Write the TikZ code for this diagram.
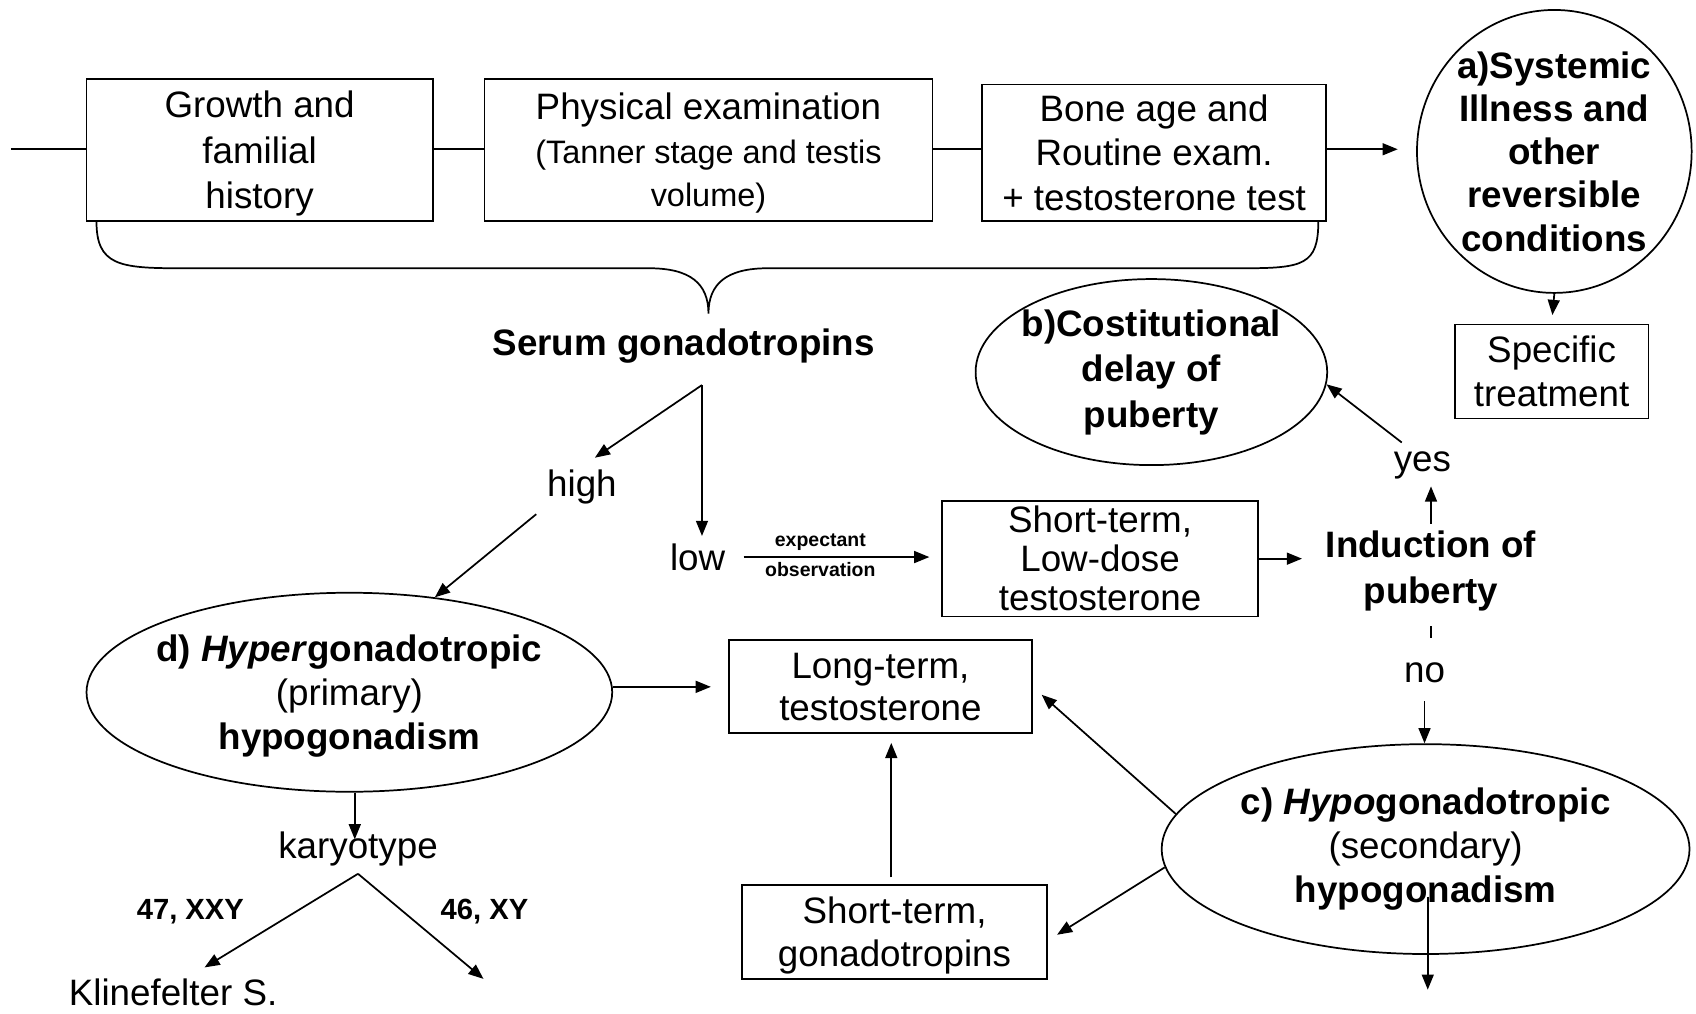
\documentclass[tikz,border=0pt]{standalone}
\usepackage{fontspec}
\setmainfont{Liberation Sans}
\usetikzlibrary{arrows.meta,shapes.geometric,calc}
\newcommand\fsN{\fontsize{17}{21}\selectfont}
\begin{document}
\begin{tikzpicture}[x=0.5pt,y=-0.5pt]
\tikzset{
 box/.style={draw, line width=0.8pt, inner sep=0pt, align=center, font=\fsN},
 oval/.style={draw, ellipse, line width=0.8pt, inner sep=0pt, align=center, font=\bfseries\fsN},
 lbl/.style={inner sep=3.3pt, align=center, font=\fsN},
 tiny/.style={inner sep=0pt, font=\bfseries\fontsize{9}{10}\selectfont},
 arr/.style={-{Triangle[length=7pt,width=5.5pt]}, line width=0.8pt},
 ln/.style={line width=0.8pt},
}
\useasboundingbox (0,0) rectangle (1568,937);
% nodes
\node[box, minimum width=160pt, minimum height=65.5pt, text depth=0pt] (b1) at (240,138.5) {Growth and\\familial\\history};
\node[box, minimum width=207pt, minimum height=65.5pt, text depth=0pt, font=\fontsize{17}{20}\selectfont] (b2) at (655,138.5) {Physical examination\\{\fontsize{15}{18}\selectfont(Tanner stage and testis}\\{\fontsize{15}{18}\selectfont volume)}};
\node[box, minimum width=159pt, minimum height=63pt, font=\fontsize{17}{20.5}\selectfont] (b3) at (1067,141) {Bone age and\\Routine exam.\\+ testosterone test};
\node[oval, minimum width=125pt, minimum height=130pt, font=\bfseries\fontsize{17}{20}\selectfont] (a) at (1437,140) {a)Systemic\\Illness and\\other\\reversible\\conditions};
\node[box, minimum width=89.5pt, minimum height=43.5pt, font=\fontsize{17}{20.5}\selectfont] (spec) at (1434.5,343.5) {Specific\\treatment};
\node[oval, minimum width=162.5pt, minimum height=86pt, inner xsep=-2.5pt, font=\bfseries\fontsize{17}{21}\selectfont] (b) at (1064.5,344) {b)Costitutional\\delay of\\puberty};
\node[lbl, font=\bfseries\fsN] (serum) at (632,320) {Serum gonadotropins};
\coordinate (fork) at (649,356);
\node[lbl] (high) at (538,450) {high};
\node[lbl] (low) at (645,515) {low};
\node[box, minimum width=146pt, minimum height=53.5pt, font=\fontsize{17}{18}\selectfont] (ld) at (1017,516.5) {Short-term,\\Low-dose\\testosterone};
\node[lbl, font=\bfseries\fsN] (ind) at (1323,528) {Induction of\\puberty};
\node[lbl] (yes) at (1315,430) {yes};
\node[lbl] (no) at (1317,622) {no};
\node[oval, minimum width=243pt, minimum height=92pt, inner xsep=-3.5pt, text depth=0pt, font=\fontsize{17}{20.5}\selectfont] (d) at (323,640) {\textbf{d) \textit{Hyper}gonadotropic}\\(primary)\\\textbf{hypogonadism}};
\node[box, minimum width=140pt, minimum height=43pt, font=\fontsize{17}{19.5}\selectfont] (lt) at (814,635) {Long-term,\\testosterone};
\node[oval, minimum width=244pt, minimum height=97pt, font=\fontsize{17}{20.5}\selectfont] (c) at (1318,785) {\textbf{c) \textit{Hypo}gonadotropic}\\(secondary)\\\textbf{hypogonadism}};
\node[box, minimum width=141pt, minimum height=43.5pt, text depth=0pt, font=\fontsize{17}{20}\selectfont] (sg) at (827,861.5) {Short-term,\\gonadotropins};
\node[lbl] (kar) at (331,785) {karyotype};
\node[lbl, font=\bfseries\fontsize{13.5}{16}\selectfont] (xxy) at (176,843) {47, XXY};
\node[lbl, font=\bfseries\fontsize{13.5}{16}\selectfont] (xy) at (448,843) {46, XY};
\node[lbl] (kline) at (160,917) {Klinefelter S.};
\coordinate (xyend) at (447,905);
\coordinate (start) at (10,138);
\coordinate (cend) at (1320,915);
% connectors
\draw[ln] (start) -- (start -| b1.west);
\draw[ln] (b1.east |- start) -- (b2.west |- start);
\draw[ln] (b2.east |- start) -- (b3.west |- start);
\draw[arr, shorten >=8.5pt] (b3.east |- start) -- (a.west |- start);
\draw[arr, shorten >=4pt] (a.south) -- (spec.north);
% brace
\draw[ln] ([xshift=5pt]b1.south west) .. controls +(0,40) and +(-55,0) .. (165,248) -- (600,248)
  .. controls (638,248) and (655,262) .. (655,290)
  .. controls (655,262) and (672,248) .. (710,248) -- (1150,248)
  .. controls +(55,0) and +(0,40) .. ([xshift=-4pt]b3.south east);
\draw[arr] (fork) -- ([xshift=6pt,yshift=2pt]high.north);
\draw[arr] (fork) -- (fork |- low.north);
\draw[arr, shorten <=2pt] (high.south west) -- (d.48);
\draw[arr, shorten <=5pt, shorten >=5.5pt] (low.east) -- (ld.west |- low.east)
  node[tiny, pos=0.42, above=2.5pt] {expectant}
  node[tiny, pos=0.42, below=2pt] {observation};
\draw[arr, shorten >=7.5pt] (ld.east) -- (ld.east -| ind.west);
\draw[arr] (ind.north) -- (ind.north |- yes.south);
\draw[arr, shorten <=1pt] ([xshift=8pt]yes.north west) -- (b.-4);
\draw[ln, shorten <=3.5pt, shorten >=8pt] (ind.south) -- (ind.south |- no.north);
\draw[arr, shorten <=5pt] (no.south) -- (no.south |- c.north);
\draw[arr, shorten >=8pt] (d.east |- lt.west) -- (lt.west);
\draw[arr, shorten >=5.5pt] (c.172) -- (lt.east);
\draw[arr, shorten >=5pt] (c.184) -- ([yshift=-4pt]sg.east);
\draw[arr, shorten <=3pt, shorten >=4pt] ([xshift=-1.5pt]sg.north) -- ([xshift=-1.5pt]sg.north |- lt.south);
\draw[arr] ([xshift=1pt,yshift=-22pt]c.center) -- (cend);
\draw[arr, shorten >=4.5pt] ([xshift=2.5pt]d.south) -- ([xshift=2.5pt]d.south |- kar.center);
\draw[arr, shorten >=3pt] (kar.south) -- ([xshift=12pt]kline.north);
\draw[arr] (kar.south) -- (xyend);
\end{tikzpicture}
\end{document}
